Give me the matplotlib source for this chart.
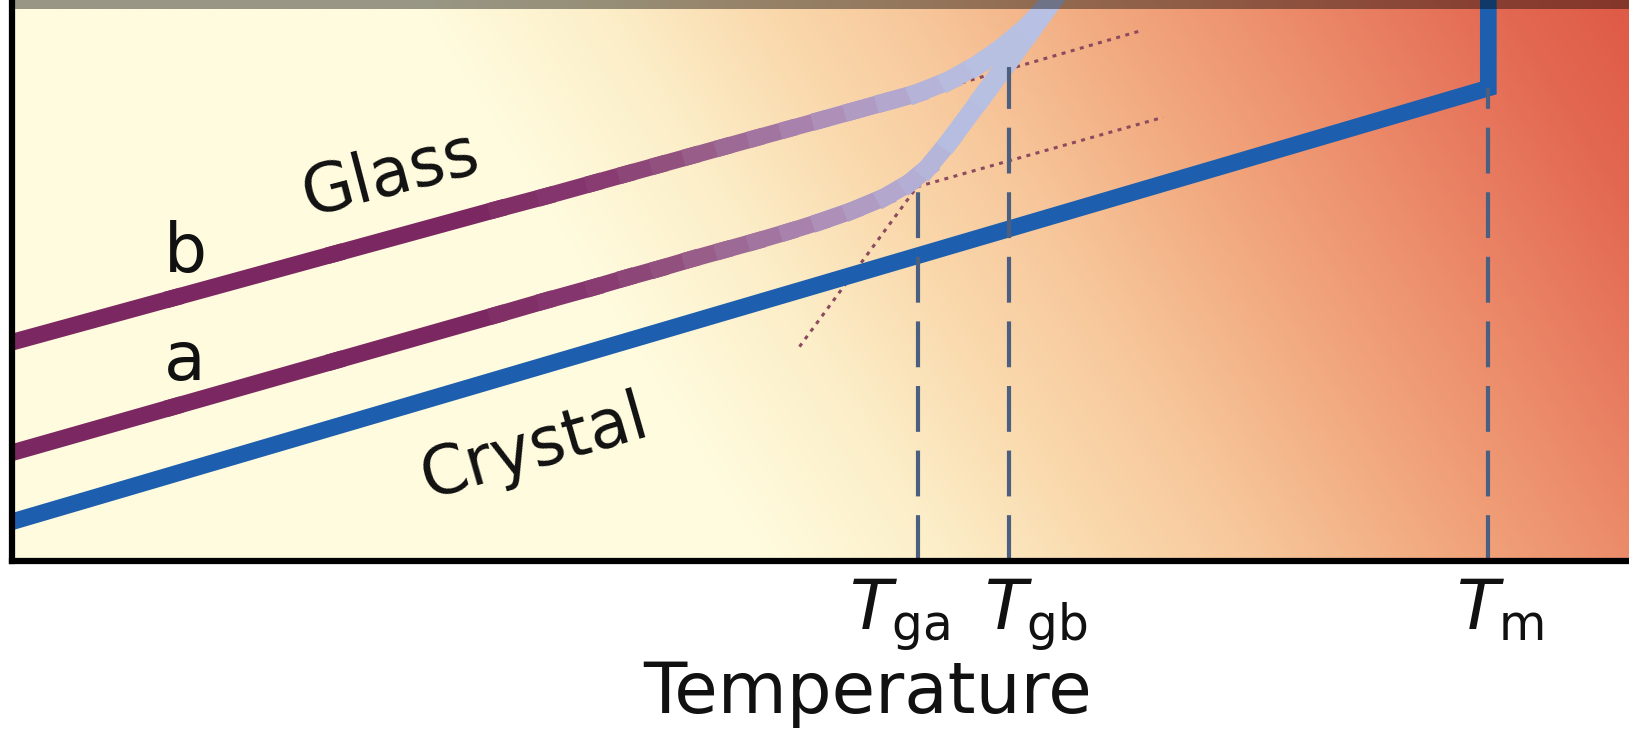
import numpy as np
import matplotlib.pyplot as plt
from matplotlib.collections import LineCollection
from matplotlib.colors import LinearSegmentedColormap
from matplotlib.patches import Rectangle

# data (arbitrary units, temperature 0-100, volume 0-100)
crystal_t = [0.0, 91.3, 91.3]
crystal_v = [7.0, 84.3, 104.0]

glass_a_t = [0, 10, 20, 30, 33, 36, 38, 40, 42, 44, 46, 48, 50, 52, 54, 55.5, 56.6, 58.0, 60.0, 61.5, 63.0, 64.6]
glass_a_v = [19.3, 27.5, 35.7, 43.9, 46.4, 48.8, 50.5, 52.1, 53.8, 55.4, 57.0, 58.7, 60.5, 62.5, 64.9, 67.4, 70.0, 74.9, 82.7, 88.6, 94.6, 101.0]

glass_b_t = [0, 10, 20, 30, 33, 36, 38, 40, 42, 44, 46, 48, 50, 52, 54, 56, 58, 59.7, 61.3, 62.8, 63.8, 64.6]
glass_b_v = [39.0, 46.9, 54.8, 62.7, 65.0, 67.4, 69.0, 70.6, 72.2, 73.8, 75.4, 77.0, 78.6, 80.2, 81.8, 83.4, 85.7, 88.4, 91.6, 95.2, 98.2, 101.0]

# extrapolations
dot_a_t = [55.97, 71.2]
dot_a_v = [66.7, 79.1]
dot_b_t = [57.6, 69.9]
dot_b_v = [84.3, 94.6]
dot_liq_t = [48.7, 55.97]
dot_liq_v = [38.2, 66.7]

marks = ['Tga', 'Tgb', 'Tm']
mark_t = [56.0, 61.65, 91.3]
mark_v = [66.7, 88.1, 84.3]
mark_labels = [r'$T_{\rm ga}$', r'$T_{\rm gb}$', r'$T_{\rm m}$']
mark_label_t = [54.9, 63.3, 92.0]

W, H = 1629, 731
fig = plt.figure(figsize=(W / 100, H / 100), dpi=100, facecolor='white')
ax = fig.add_axes([12 / W, 1 - 561 / H, 1 - 12 / W, 561 / H])

# background gradient, running diagonally from cream to red
xx = np.linspace(0, 100, 900)
yy = np.linspace(0, 100, 300)
X, Y = np.meshgrid(xx, yy)
t = (12 + X * 16.17) - 0.625 * (561 - Y * 5.61)
stops = [420, 600, 750, 900, 1100, 1300, 1500, 1629]
cols = np.array([(255, 251, 222), (252, 238, 200), (250, 218, 174), (247, 200, 156),
                 (242, 168, 126), (235, 136, 104), (227, 104, 82), (222, 90, 70)]) / 255
img = np.dstack([np.interp(t, stops, cols[:, k]) for k in range(3)])
ax.imshow(img, extent=[0, 100, 0, 100], origin='lower', aspect='auto', zorder=0)

# dotted extrapolations
dot_kw = dict(color='#8c4a5e', lw=2.2, dashes=(1.3, 1.8), zorder=1)
ax.plot(dot_a_t, dot_a_v, **dot_kw)
ax.plot(dot_b_t, dot_b_v, **dot_kw)
ax.plot(dot_liq_t, dot_liq_v, **dot_kw)

# crystal
ax.plot(crystal_t, crystal_v, color='#1d5fae', lw=12, solid_joinstyle='miter', solid_capstyle='butt', zorder=2)

# glasses with colour fading from purple to pale lavender
gcmap = LinearSegmentedColormap.from_list('glass', [
    (0.0, '#7b2862'), (0.28, '#7b2862'), (0.36, '#86386f'), (0.42, '#955682'),
    (0.47, '#a274a0'), (0.51, '#ad8fb8'), (0.54, '#b2a2c9'), (0.57, '#b5b4d9'),
    (0.60, '#b8c0e2'), (1.0, '#b4c6e8')])
for gt, gv in [(glass_a_t, glass_a_v), (glass_b_t, glass_b_v)]:
    pts = np.column_stack([gt, gv])
    # pale base under the bend so joints have no gaps
    bend = pts[:, 0] >= 50
    ax.plot(pts[bend, 0], pts[bend, 1], color='#b4b6da', lw=12.5, solid_joinstyle='round', zorder=3)
    segs = np.stack([pts[:-1], pts[1:]], axis=1)
    mid = (pts[:-1, 0] + pts[1:, 0]) / 200
    lws = np.where(mid < 0.5, 12, 12 + (mid - 0.5) * 20)
    lc = LineCollection(segs, colors=gcmap(mid), linewidths=lws, capstyle='projecting', joinstyle='round', zorder=3)
    ax.add_collection(lc)

# dashed markers
for tx, vy in zip(mark_t, mark_v):
    ax.plot([tx, tx], [0, vy], color='#4b5f80', lw=3, dashes=(11, 4.5), zorder=4)

ax.set_xlim(0, 100)
ax.set_ylim(0, 100)
ax.set_xticks([])
ax.set_yticks([])
for s in ['top', 'right']:
    ax.spines[s].set_visible(False)
for s in ['left', 'bottom']:
    ax.spines[s].set_linewidth(4.5)
    ax.spines[s].set_color('black')
    ax.spines[s].set_zorder(6)

# labels
ax.text(23.7, 65.5, 'Glass', rotation=14.6, rotation_mode='anchor', ha='center', va='baseline', fontsize=48, color='#111111', zorder=5)
ax.text(32.6, 16.8, 'Crystal', rotation=16, rotation_mode='anchor', ha='center', va='baseline', fontsize=48, color='#111111', zorder=5)
ax.text(10.7, 51.6, 'b', ha='center', va='baseline', fontsize=49, color='#111111', zorder=5)
ax.text(10.7, 32.3, 'a', ha='center', va='baseline', fontsize=49, color='#111111', zorder=5)

xt = ax.get_xaxis_transform()
for lx, lab in zip(mark_label_t, mark_labels):
    ax.text(lx, -0.123, lab, transform=xt, ha='center', va='baseline', fontsize=50, color='#111111')
ax.text(0.529, -0.271, 'Temperature', transform=ax.transAxes, ha='center', va='baseline', fontsize=51, color='#111111')

# dark strip along the top edge
ax.add_patch(Rectangle((0, (561 - 9) / 561), 1, 1, transform=ax.transAxes, color='black', alpha=0.4, lw=0, zorder=10))

plt.savefig('out.png', dpi=100)
